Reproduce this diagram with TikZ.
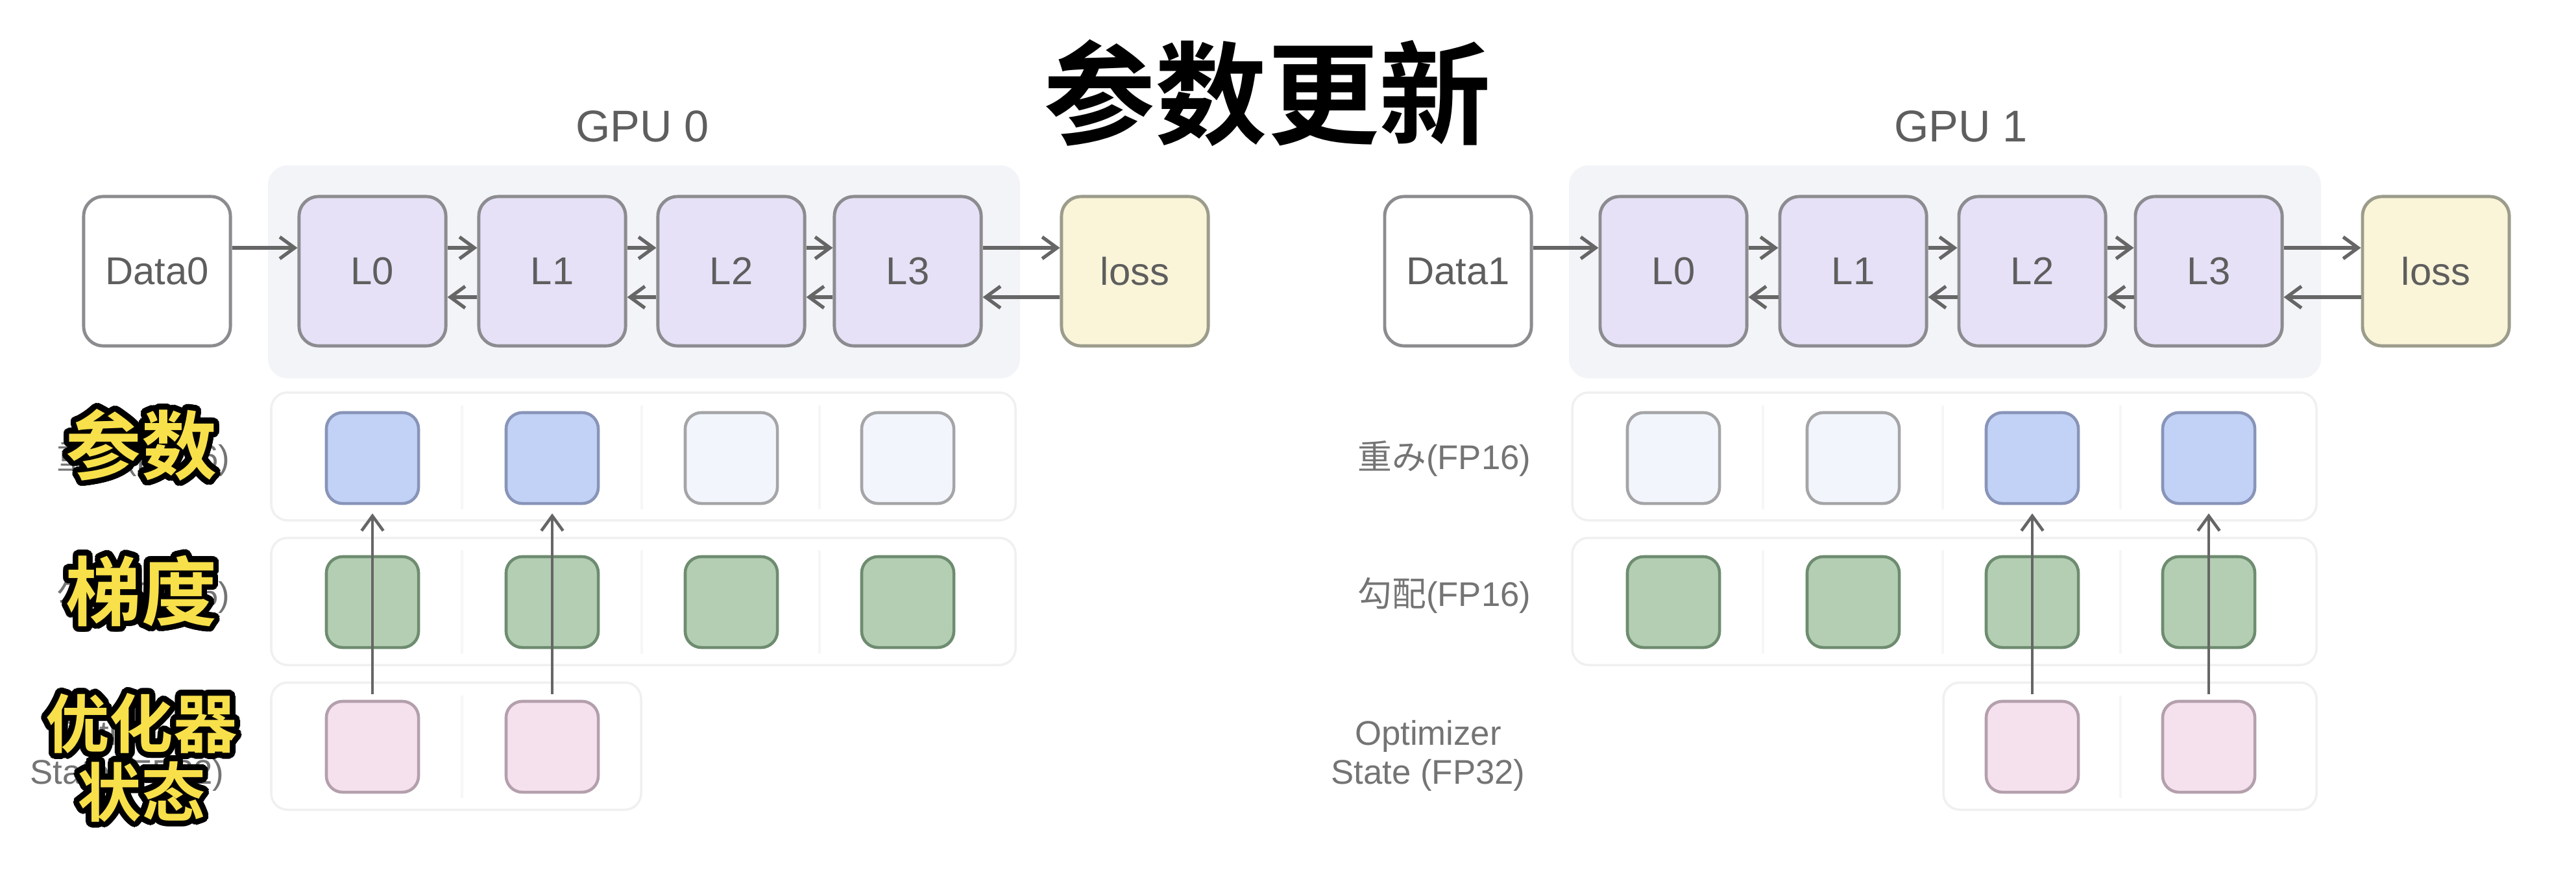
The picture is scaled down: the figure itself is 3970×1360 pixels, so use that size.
\documentclass[tikz,border=0pt]{standalone}
\usepackage{fontspec}
\setmainfont{Liberation Sans}
\newfontfamily\jpfont{Noto Sans CJK JP}
\newfontfamily\scbold{Noto Sans CJK SC Bold}
\usepackage{contour}
\contourlength{2.5pt}
\contournumber{48}
\usetikzlibrary{arrows.meta}
\definecolor{bgpanel}{HTML}{F2F4F8}
\definecolor{boxline}{HTML}{8C8C90}
\definecolor{layerfill}{HTML}{E6E1F7}
\definecolor{lossfill}{HTML}{FAF4D8}
\definecolor{lossline}{HTML}{9C9C8C}
\definecolor{bluefill}{HTML}{C2D2F6}
\definecolor{blueline}{HTML}{8894B8}
\definecolor{palefill}{HTML}{F2F5FC}
\definecolor{paleline}{HTML}{A5A5A8}
\definecolor{greenfill}{HTML}{B3CEB3}
\definecolor{greenline}{HTML}{6E8C70}
\definecolor{pinkfill}{HTML}{F5E1EE}
\definecolor{pinkline}{HTML}{B3A0AC}
\definecolor{txtgray}{HTML}{5E5E5E}
\definecolor{labgray}{HTML}{747474}
\definecolor{arrgray}{HTML}{666666}
\definecolor{rowline}{HTML}{F0F0F0}
\definecolor{sepline}{HTML}{F6F6F6}
\definecolor{tyellow}{HTML}{F8E04A}
\begin{document}
\begin{tikzpicture}[x=0.01cm,y=-0.01cm,
  bigbox/.style={draw=boxline, line width=1.4pt, rounded corners=0.3cm,
    minimum width=2.26cm, minimum height=2.3cm, inner sep=0pt,
    font=\fontsize{17}{20}\selectfont, text=txtgray},
  databox/.style={bigbox, fill=white},
  layerbox/.style={bigbox, fill=layerfill},
  lossbox/.style={bigbox, fill=lossfill, draw=lossline},
  sq/.style={line width=1.3pt, rounded corners=0.25cm, minimum width=1.42cm,
    minimum height=1.4cm, inner sep=0pt},
  wblue/.style={sq, fill=bluefill, draw=blueline},
  wpale/.style={sq, fill=palefill, draw=paleline},
  grad/.style={sq, fill=greenfill, draw=greenline},
  optst/.style={sq, fill=pinkfill, draw=pinkline},
  rowpanel/.style={draw=rowline, line width=1pt, rounded corners=0.25cm, fill=white},
  sep/.style={draw=sepline, line width=1.2pt},
  harr/.style={draw=arrgray, line width=1.5pt, -{Straight Barb[length=6.5pt,width=9.5pt,line width=1.5pt]}},
  varr/.style={draw=arrgray, line width=1.2pt, -{Straight Barb[length=6.5pt,width=9.5pt,line width=1.3pt]}},
  gpulab/.style={font=\fontsize{19.5}{22}\selectfont, text=txtgray, inner sep=0pt},
  lab/.style={font=\fontsize{15}{17}\selectfont, text=labgray, inner sep=0pt},
  ylab/.style={font=\scbold\fontsize{33}{36}\selectfont, text=tyellow, inner sep=0pt, align=center},
  titlelab/.style={font=\scbold\fontsize{49}{55}\selectfont, text=black, inner sep=0pt}]
\useasboundingbox[fill=white] (0,0) rectangle (3970,1360);

\node[titlelab] (title) at (1953,143) {参数更新};

\foreach \g/\dx/\gx in {0/0/990, 1/2005/3022}{
  % top row
  \fill[bgpanel, rounded corners=0.3cm] (413+\dx,255) rectangle (1572+\dx,583);
  \node[gpulab] (gpu\g) at (\gx,195) {GPU \g};
  \node[databox] (D\g) at (242+\dx,418) {Data\g};
  \foreach \i/\cx in {0/574,1/851,2/1127,3/1399}
    \node[layerbox] (L\i-\g) at (\cx+\dx,418) {L\i};
  \node[lossbox] (loss\g) at (1749+\dx,418) {loss};
  \draw[harr] ([yshift=0.36cm]D\g.east) -- ([yshift=0.36cm]L0-\g.west);
  \draw[harr] ([yshift=0.36cm]L0-\g.east) -- ([yshift=0.36cm]L1-\g.west);
  \draw[harr] ([yshift=0.36cm]L1-\g.east) -- ([yshift=0.36cm]L2-\g.west);
  \draw[harr] ([yshift=0.36cm]L2-\g.east) -- ([yshift=0.36cm]L3-\g.west);
  \draw[harr] ([yshift=0.36cm]L3-\g.east) -- ([yshift=0.36cm]loss\g.west);
  \draw[harr] ([yshift=-0.40cm]loss\g.west) -- ([yshift=-0.40cm]L3-\g.east);
  \draw[harr] ([yshift=-0.40cm]L3-\g.west) -- ([yshift=-0.40cm]L2-\g.east);
  \draw[harr] ([yshift=-0.40cm]L2-\g.west) -- ([yshift=-0.40cm]L1-\g.east);
  \draw[harr] ([yshift=-0.40cm]L1-\g.west) -- ([yshift=-0.40cm]L0-\g.east);
  % row panels
  \path[rowpanel] (418+\dx,605) rectangle (1565+\dx,802);
  \path[rowpanel] (418+\dx,829) rectangle (1565+\dx,1025);
  \foreach \sx in {712,989,1263}{
    \draw[sep] (\sx+\dx,625) -- (\sx+\dx,785);
    \draw[sep] (\sx+\dx,848) -- (\sx+\dx,1008);
  }
  % labels
  \node[lab, anchor=east] (lw\g) at (355+\dx,707) {{\jpfont 重み}(FP16)};
  \node[lab, anchor=east] (lg\g) at (355+\dx,918) {{\jpfont 勾配}(FP16)};
  \node[lab, align=center] (lo\g) at (196+\dx,1165) {Optimizer\\State (FP32)};
  % gradients
  \foreach \i/\cx in {0/574,1/851,2/1127,3/1399}
    \node[grad] (G\i-\g) at (\cx+\dx,928) {};
}

% optimizer-state panels
\path[rowpanel] (418,1052) rectangle (988,1248);
\draw[sep] (712,1072) -- (712,1230);
\path[rowpanel] (2995,1052) rectangle (3570,1248);
\draw[sep] (3268,1072) -- (3268,1230);

% GPU 0 weights and optimizer states
\node[wblue] (W0-0) at (574,706) {};
\node[wblue] (W1-0) at (851,706) {};
\node[wpale] (W2-0) at (1127,706) {};
\node[wpale] (W3-0) at (1399,706) {};
\node[optst] (O0-0) at (574,1151) {};
\node[optst] (O1-0) at (851,1151) {};
% GPU 1 weights and optimizer states
\node[wpale] (W0-1) at (2579,706) {};
\node[wpale] (W1-1) at (2856,706) {};
\node[wblue] (W2-1) at (3132,706) {};
\node[wblue] (W3-1) at (3404,706) {};
\node[optst] (O2-1) at (3132,1151) {};
\node[optst] (O3-1) at (3404,1151) {};

% update arrows
\draw[varr] ([yshift=0.09cm]O0-0.north) -- ([yshift=-0.13cm]W0-0.south);
\draw[varr] ([yshift=0.09cm]O1-0.north) -- ([yshift=-0.13cm]W1-0.south);
\draw[varr] ([yshift=0.09cm]O2-1.north) -- ([yshift=-0.13cm]W2-1.south);
\draw[varr] ([yshift=0.09cm]O3-1.north) -- ([yshift=-0.13cm]W3-1.south);

% yellow overlay labels
\node[ylab] (y1) at (218,690) {\contour{black}{参数}};
\node[ylab] (y2) at (218,915) {\contour{black}{梯度}};
\node[ylab, font=\scbold\fontsize{28}{29}\selectfont] (y3) at (218,1172) {\contour{black}{优化器}\\\contour{black}{状态}};
\end{tikzpicture}
\end{document}
